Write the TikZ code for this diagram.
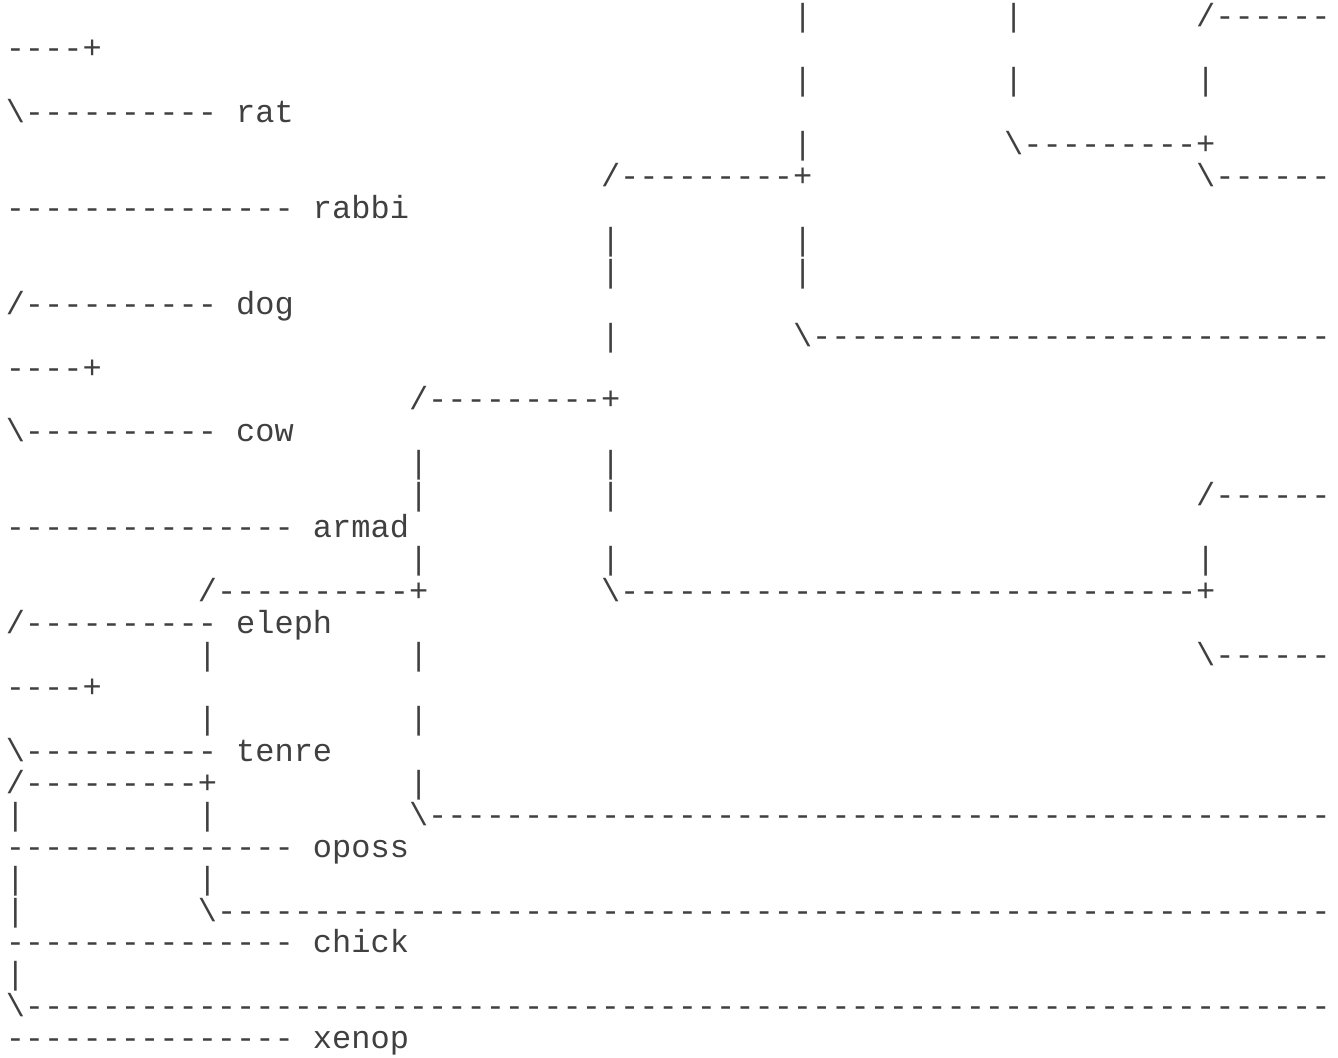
\documentclass[tikz,border=0pt]{standalone}
\usepackage{fontspec}
\setmonofont{Liberation Mono}

% a run of n dashes
\newcommand{\dashrun}[1]{\foreach \i in {1,...,#1}{-}}

\tikzset{
  ascii/.style={font=\ttfamily\fontsize{16pt}{16pt}\selectfont,
    anchor=base west, inner sep=0pt, text=black!75}
}

\begin{document}
\begin{tikzpicture}[x=9.6pt, y=-15.97pt]

    %----- PAGE -----
    \fill[white] (-2.7pt,13.35pt) rectangle (666.3pt,-515.15pt);
    \useasboundingbox (-2.7pt,13.35pt) rectangle (666.3pt,-515.15pt);

    %----- VERTICAL BARS (column/row) -----
    \foreach \c/\r in {41/0, 52/0, 41/2, 52/2, 62/2, 41/4,
                       31/7, 41/7, 31/8, 41/8, 31/10,
                       21/14, 31/14, 21/15, 31/15, 21/17, 31/17, 62/17,
                       10/20, 21/20, 10/22, 21/22, 21/24,
                       0/25, 10/25, 0/27, 10/27, 0/28, 0/30}
        \node[ascii] (bar\c-\r) at (\c,\r) {|};

    %----- BRANCHES, TOP PART -----
    \node[ascii] (up62-0)   at (62,0)  {/\dashrun{6}};
    \node[ascii] (join0-1)  at (0,1)   {\dashrun{4}+};
    \node[ascii] (rat)      at (0,3)   {\textbackslash\dashrun{10} rat};
    \node[ascii] (low52-4)  at (52,4)  {\textbackslash\dashrun{9}+};
    \node[ascii] (up31-5)   at (31,5)  {/\dashrun{9}+};
    \node[ascii] (low62-5)  at (62,5)  {\textbackslash\dashrun{6}};
    \node[ascii] (rabbi)    at (0,6)   {\dashrun{15} rabbi};
    \node[ascii] (dog)      at (0,9)   {/\dashrun{10} dog};
    \node[ascii] (low41-10) at (41,10) {\textbackslash\dashrun{27}};
    \node[ascii] (join0-11) at (0,11)  {\dashrun{4}+};
    \node[ascii] (up21-12)  at (21,12) {/\dashrun{9}+};
    \node[ascii] (cow)      at (0,13)  {\textbackslash\dashrun{10} cow};

    %----- BRANCHES, MIDDLE PART -----
    \node[ascii] (up62-15)  at (62,15) {/\dashrun{6}};
    \node[ascii] (armad)    at (0,16)  {\dashrun{15} armad};
    \node[ascii] (up10-18)  at (10,18) {/\dashrun{10}+};
    \node[ascii] (low31-18) at (31,18) {\textbackslash\dashrun{30}+};
    \node[ascii] (eleph)    at (0,19)  {/\dashrun{10} eleph};
    \node[ascii] (low62-20) at (62,20) {\textbackslash\dashrun{6}};
    \node[ascii] (join0-21) at (0,21)  {\dashrun{4}+};
    \node[ascii] (tenre)    at (0,23)  {\textbackslash\dashrun{10} tenre};

    %----- BRANCHES, BOTTOM PART -----
    \node[ascii] (up0-24)   at (0,24)  {/\dashrun{9}+};
    \node[ascii] (low21-25) at (21,25) {\textbackslash\dashrun{47}};
    \node[ascii] (oposs)    at (0,26)  {\dashrun{15} oposs};
    \node[ascii] (low10-28) at (10,28) {\textbackslash\dashrun{58}};
    \node[ascii] (chick)    at (0,29)  {\dashrun{15} chick};
    \node[ascii] (low0-31)  at (0,31)  {\textbackslash\dashrun{68}};
    \node[ascii] (xenop)    at (0,32)  {\dashrun{15} xenop};

\end{tikzpicture}
\end{document}
